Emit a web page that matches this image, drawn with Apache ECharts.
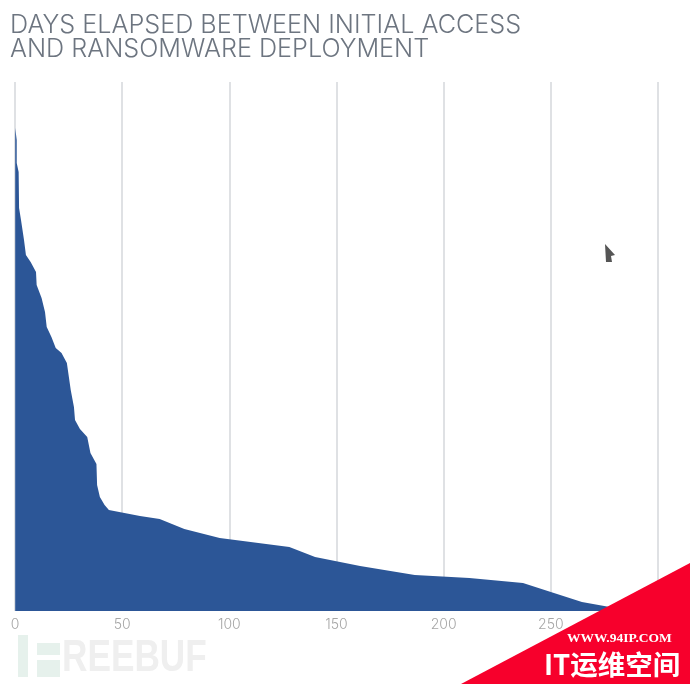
<!DOCTYPE html>
<html><head><meta charset="utf-8">
<style>html,body{margin:0;padding:0;background:#fff}#c{width:690px;height:684px}</style>
<script src="https://cdn.jsdelivr.net/npm/echarts@6/dist/echarts.min.js"></script>
</head><body><div id="c"></div>
<script>
const titleLines = ['DAYS ELAPSED BETWEEN INITIAL ACCESS', 'AND RANSOMWARE DEPLOYMENT'];
const xTicks = [0, 50, 100, 150, 200, 250, 300];
const days = [0.1,0.8,0.8,1.7,1.9,2.8,4.2,5.1,7.3,9.8,10.1,12.4,14,14.8,17,19,21.7,24.2,24.5,26,27.5,28.0,30.3,33.7,35.2,38,38.3,39.6,41.8,43.8,58.3,67.5,79,95.5,128,140,161,186.5,212,237,250,264.5,277.5,292];
const heights = [483,471,448,439,403,391,371,356,349,339,326,313,299,284,274,263,258,248,248,221,204,191,182,174,158,147,126,114,106,101,95,92,82,73,64,54,45,36,33,28,19,9,4,0];

const chart = echarts.init(document.getElementById('c'), null, {renderer:'canvas'});
chart.setOption({
  animation:false,
  backgroundColor:'#fff',
  title:{left:5,top:8,text:titleLines.join('\n'),textStyle:{fontFamily:'Inter',fontWeight:300,fontSize:25.2,lineHeight:24.5,color:'#6d7580'}},
  grid:{left:15,right:32,top:82,bottom:73},
  xAxis:{type:'value',min:0,max:300,interval:50,
    axisLine:{show:false},axisTick:{show:false},
    splitLine:{show:true,lineStyle:{color:'#d5d7db',width:1.5}},
    axisLabel:{color:'#a6a6a6',fontFamily:'Inter',fontWeight:300,fontSize:14,margin:7,
      formatter:v=>xTicks.includes(v)?String(v):''}},
  yAxis:{type:'value',min:0,max:529,show:false,splitLine:{show:false}},
  series:[{type:'line',symbol:'none',data:days.map((d,i)=>[d,heights[i]]),
    lineStyle:{width:0},areaStyle:{color:'#2c5697',opacity:1}}],
  graphic:[
    {type:'polygon',z:100,shape:{points:[[605,244],[615,255],[611,256],[612,262],[606,262]]},style:{fill:'#555'}},
    {type:'rect',z:100,shape:{x:18,y:635,width:10,height:42},style:{fill:'#e6f1ec'}},
    {type:'rect',z:100,shape:{x:37,y:643,width:23,height:12},style:{fill:'#e6f1ec'}},
    {type:'rect',z:100,shape:{x:37,y:660,width:23,height:17},style:{fill:'#e6f1ec'}},
    {type:'text',z:100,x:62,y:637,scaleX:0.8,style:{text:'REEBUF',fill:'#efefef',font:'bold 44px "Liberation Sans"'}},
    {type:'polygon',z:110,shape:{points:[[690,563],[690,684],[461,684]]},style:{fill:'#f7002c'}},
    {type:'text',z:111,x:567,y:632,style:{text:'WWW.94IP.COM',fill:'#fff',font:'bold 13.5px "Liberation Serif"'}},
    {type:'text',z:111,x:544,y:651,style:{text:'IT运维空间',fill:'#fff',font:'bold 27.5px "Noto Sans CJK SC"'}}
  ]
});
</script></body></html>
